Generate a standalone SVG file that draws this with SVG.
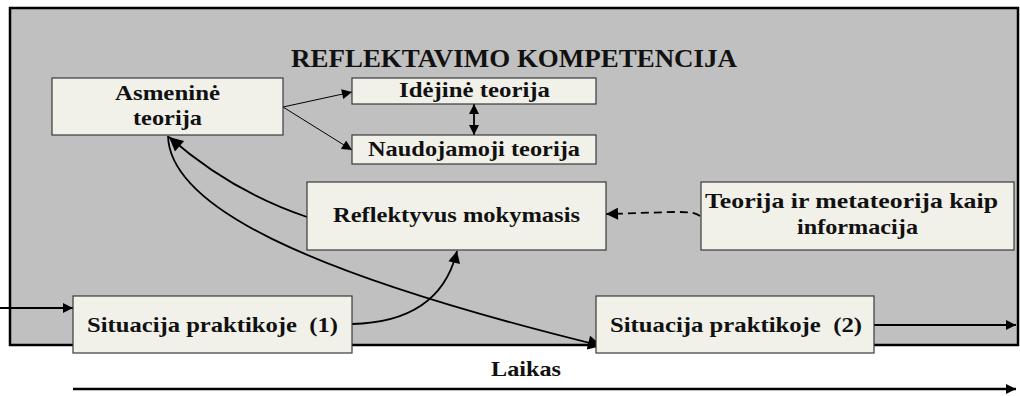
<svg xmlns="http://www.w3.org/2000/svg" width="1020" height="396" viewBox="0 0 1020 396">
  <style>
    .box { fill: #f1f1ea; stroke: #3a3a3a; stroke-width: 1.2; }
    .lbl { font-family: "Liberation Serif", "Times New Roman", serif; font-weight: bold; font-size: 21px; fill: #111; text-anchor: middle; }
    .title { font-family: "Liberation Serif", "Times New Roman", serif; font-weight: bold; font-size: 25px; fill: #111; text-anchor: middle; }
    .ln { fill: none; stroke: #000; stroke-width: 1.8; }
    .thin { fill: none; stroke: #000; stroke-width: 1; }
  </style>
  <defs>
    <marker id="ah" viewBox="0 0 10 10" refX="10" refY="5" markerWidth="17" markerHeight="12" markerUnits="userSpaceOnUse" orient="auto-start-reverse">
      <path d="M0,0 L10,5 L0,10 z" fill="#000"/>
    </marker>
    <marker id="ahs" viewBox="0 0 10 10" refX="10" refY="5" markerWidth="13" markerHeight="10" markerUnits="userSpaceOnUse" orient="auto-start-reverse">
      <path d="M0,0 L10,5 L0,10 z" fill="#000"/>
    </marker>
    <marker id="ahb" viewBox="0 0 10 10" refX="10" refY="5" markerWidth="20" markerHeight="14" markerUnits="userSpaceOnUse" orient="auto">
      <path d="M0,0 L10,5 L0,10 z" fill="#000"/>
    </marker>
  </defs>

  <!-- background panel -->
  <rect x="10" y="8" width="1008" height="337" fill="#c0c0c0" stroke="#000" stroke-width="2.5"/>
  <text class="title" x="514" y="67" textLength="446" lengthAdjust="spacingAndGlyphs">REFLEKTAVIMO KOMPETENCIJA</text>

  <!-- connectors -->
  <g id="connectors">
    <path class="thin" d="M283,107 L352,92" marker-end="url(#ahs)"/>
    <path class="thin" d="M283,107 L352,150" marker-end="url(#ahs)"/>
    <path class="ln" d="M474,104 L474,135" marker-start="url(#ahs)" marker-end="url(#ahs)"/>
    <path class="ln" d="M307,217 Q232,192 169,137" marker-end="url(#ahb)"/>
    <path class="ln" d="M168,136 C170,205 300,272 602,346" marker-end="url(#ahb)"/>
    <path class="ln" d="M352,324 Q440,322 457,251" marker-end="url(#ah)"/>
    <path class="ln" d="M700,216 C692,210 682,212 606,214" stroke-dasharray="8,5" marker-end="url(#ah)"/>
    <path class="ln" d="M0,308 L73,308" marker-end="url(#ahs)"/>
    <path class="ln" d="M874,325 L1016,325" marker-end="url(#ahs)"/>
    <path fill="none" stroke="#000" stroke-width="2.5" d="M73,389 L1016,389" marker-end="url(#ahs)"/>
  </g>

  <g id="asmenine">
    <rect class="box" x="52" y="78" width="231" height="57"/>
    <text class="lbl" x="167.5" y="100" textLength="105" lengthAdjust="spacingAndGlyphs">Asmeninė</text>
    <text class="lbl" x="167.5" y="125" textLength="69" lengthAdjust="spacingAndGlyphs">teorija</text>
  </g>
  <g id="idejine">
    <rect class="box" x="352" y="78" width="244" height="26"/>
    <text class="lbl" x="474.5" y="97" textLength="151" lengthAdjust="spacingAndGlyphs">Idėjinė teorija</text>
  </g>
  <g id="naudojamoji">
    <rect class="box" x="352" y="135" width="244" height="29"/>
    <text class="lbl" x="474" y="156" textLength="212" lengthAdjust="spacingAndGlyphs">Naudojamoji teorija</text>
  </g>
  <g id="reflektyvus">
    <rect class="box" x="307" y="182" width="299" height="68"/>
    <text class="lbl" x="456.5" y="222" textLength="247" lengthAdjust="spacingAndGlyphs">Reflektyvus mokymasis</text>
  </g>
  <g id="teorija-info">
    <rect class="box" x="701" y="182" width="313" height="68"/>
    <text class="lbl" x="851.5" y="208" textLength="293" lengthAdjust="spacingAndGlyphs">Teorija ir metateorija kaip</text>
    <text class="lbl" x="857.5" y="234" textLength="121" lengthAdjust="spacingAndGlyphs">informacija</text>
  </g>
  <g id="situacija1">
    <rect class="box" x="73" y="296" width="279" height="57"/>
    <text class="lbl" x="212.5" y="332" textLength="251" lengthAdjust="spacingAndGlyphs" xml:space="preserve">Situacija praktikoje  (1)</text>
  </g>
  <g id="situacija2">
    <rect class="box" x="596" y="296" width="278" height="57"/>
    <text class="lbl" x="736" y="332" textLength="252" lengthAdjust="spacingAndGlyphs" xml:space="preserve">Situacija praktikoje  (2)</text>
  </g>
  <g id="laikas">
    <text class="lbl" x="526" y="376" textLength="70" lengthAdjust="spacingAndGlyphs">Laikas</text>
  </g>
</svg>
